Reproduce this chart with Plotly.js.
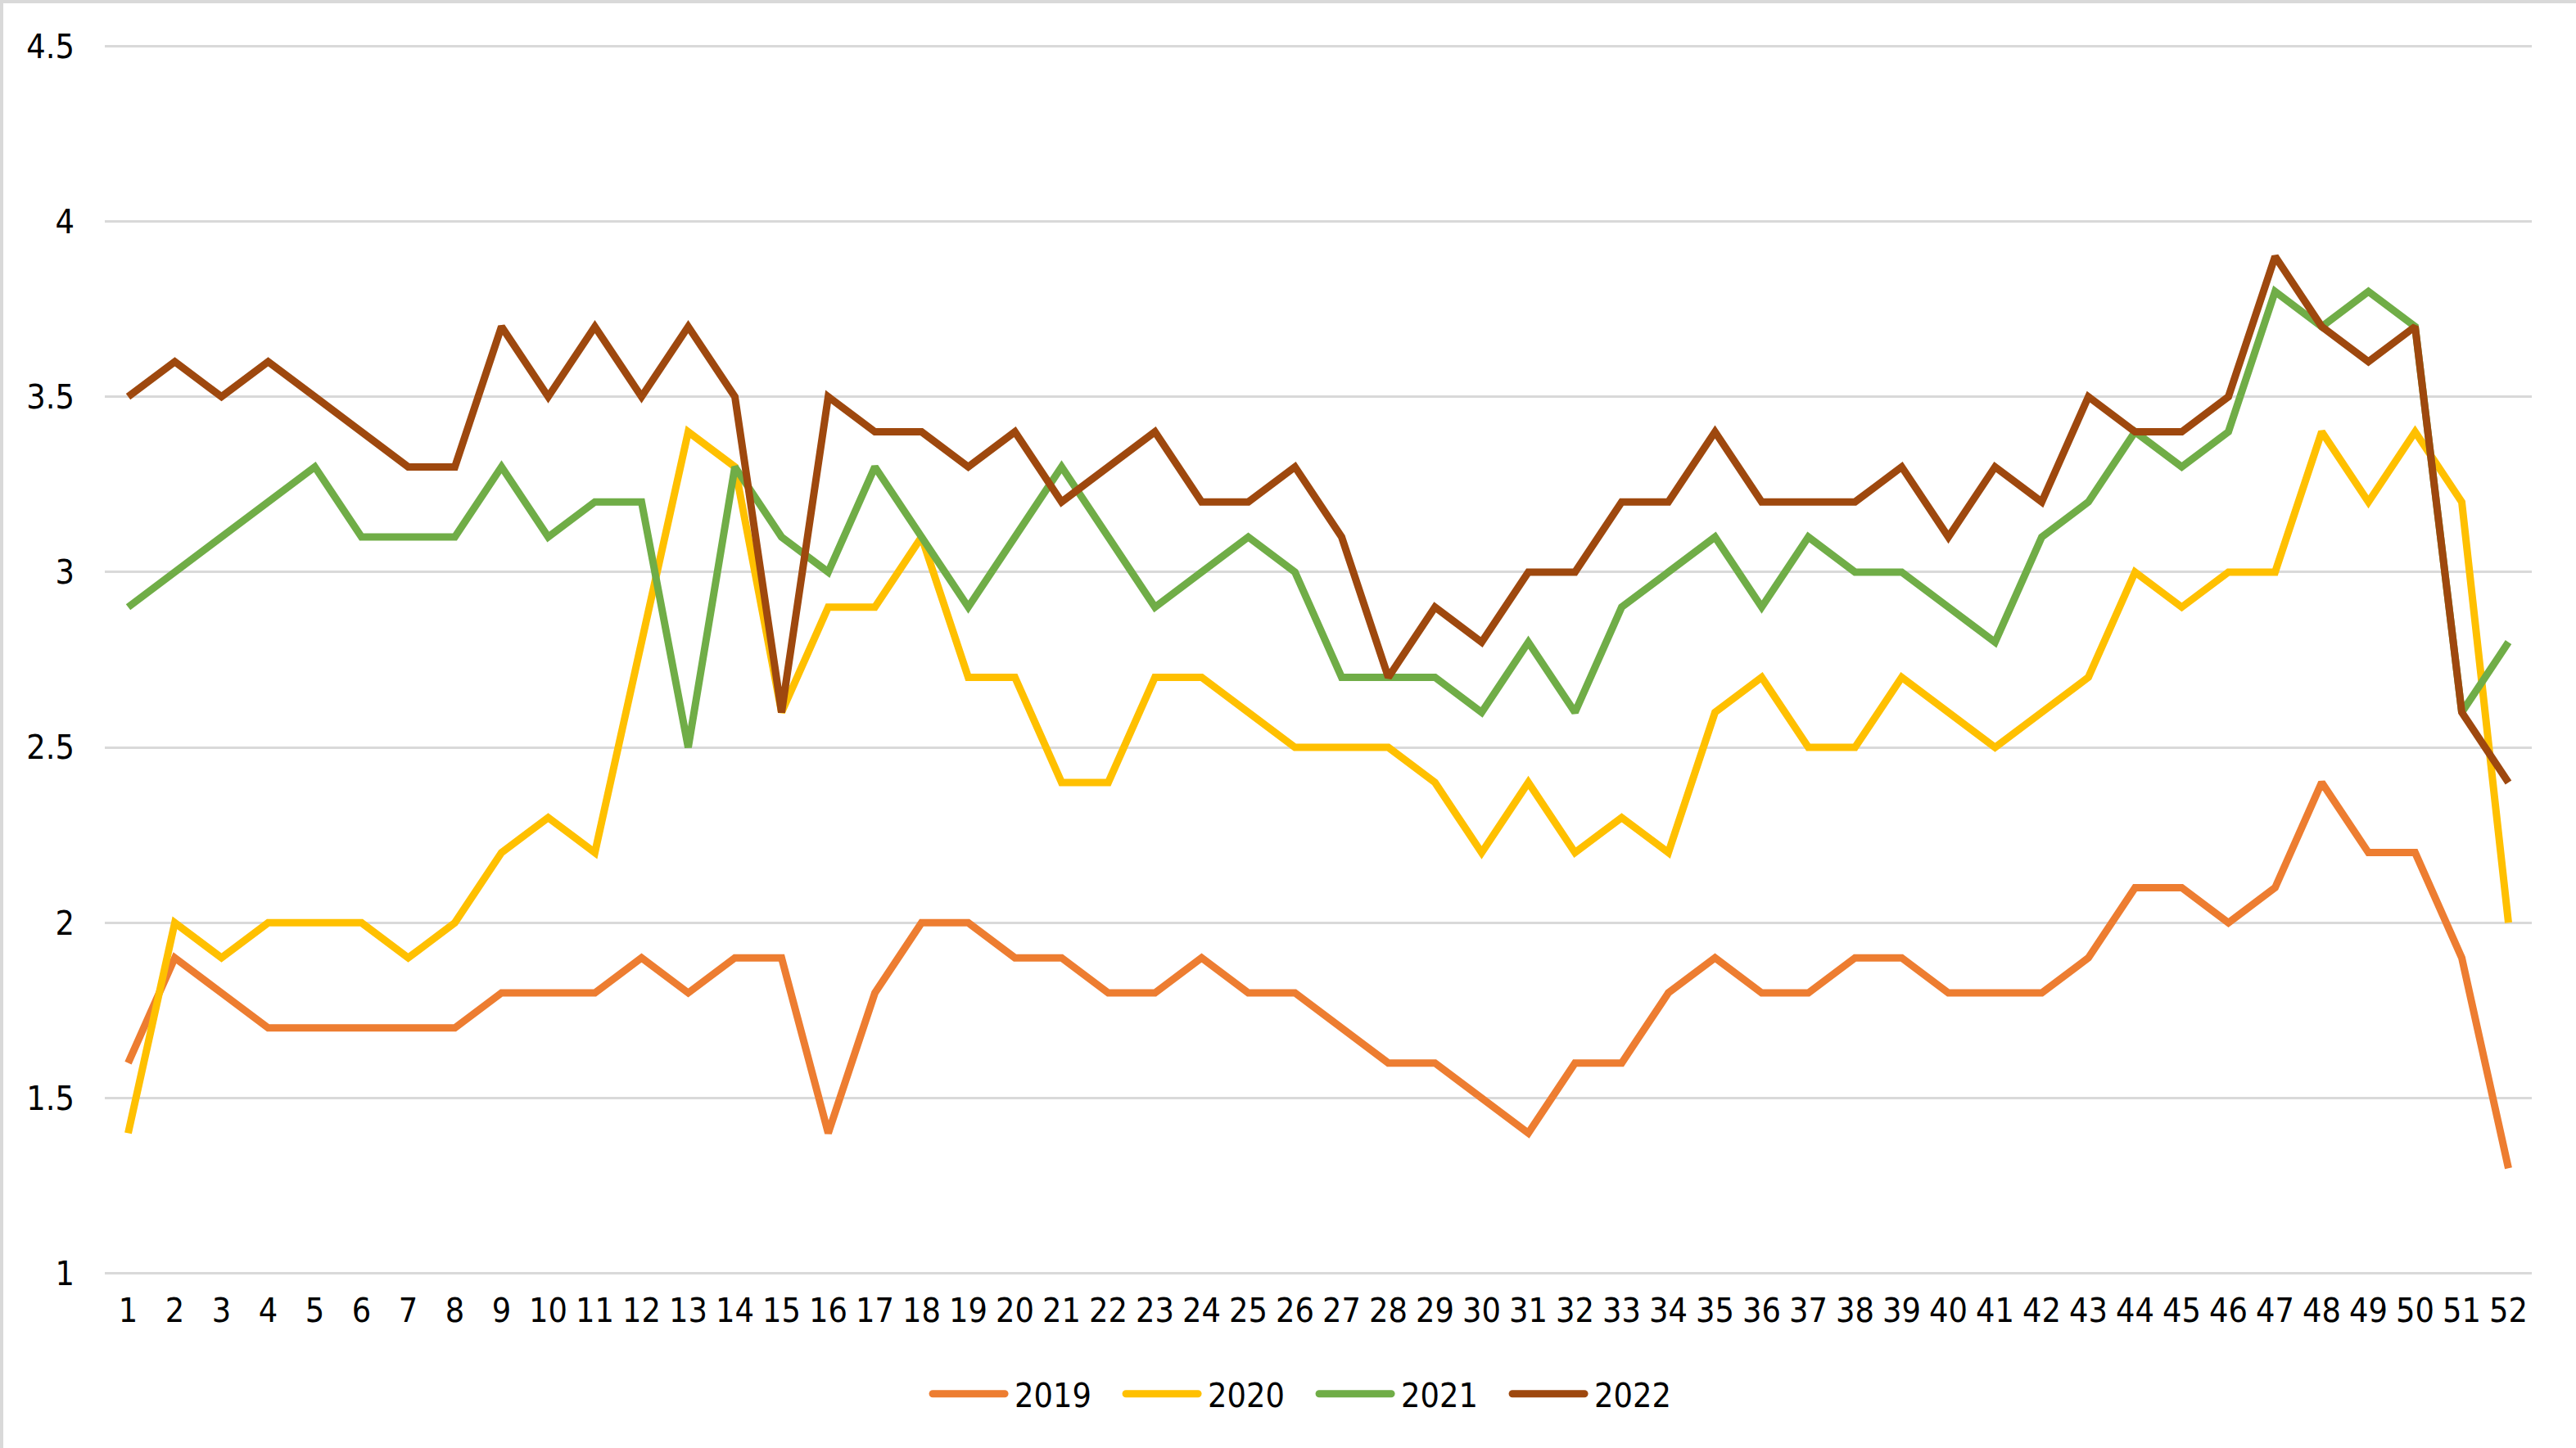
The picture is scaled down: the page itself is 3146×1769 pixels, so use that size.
<!DOCTYPE html>
<html>
<head>
<meta charset="utf-8">
<script src="https://cdn.plot.ly/plotly-3.0.1.min.js"></script>
<style>
  html, body { margin: 0; padding: 0; background: #fff; }
  #chart { width: 3146px; height: 1769px; box-sizing: border-box; border: 4px solid #d9d9d9; }
  #chart text { font-stretch: condensed !important; }
</style>
</head>
<body>
<div id="chart"></div>
<script>
var weeks = [];
for (var i = 1; i <= 52; i++) weeks.push(String(i));

var y2019 = [1.6, 1.9, 1.8, 1.7, 1.7, 1.7, 1.7, 1.7, 1.8, 1.8, 1.8, 1.9, 1.8, 1.9, 1.9, 1.4, 1.8, 2.0, 2.0, 1.9,
             1.9, 1.8, 1.8, 1.9, 1.8, 1.8, 1.7, 1.6, 1.6, 1.5, 1.4, 1.6, 1.6, 1.8, 1.9, 1.8, 1.8, 1.9, 1.9, 1.8,
             1.8, 1.8, 1.9, 2.1, 2.1, 2.0, 2.1, 2.4, 2.2, 2.2, 1.9, 1.3];
var y2020 = [1.4, 2.0, 1.9, 2.0, 2.0, 2.0, 1.9, 2.0, 2.2, 2.3, 2.2, 2.8, 3.4, 3.3, 2.6, 2.9, 2.9, 3.1, 2.7, 2.7,
             2.4, 2.4, 2.7, 2.7, 2.6, 2.5, 2.5, 2.5, 2.4, 2.2, 2.4, 2.2, 2.3, 2.2, 2.6, 2.7, 2.5, 2.5, 2.7, 2.6,
             2.5, 2.6, 2.7, 3.0, 2.9, 3.0, 3.0, 3.4, 3.2, 3.4, 3.2, 2.0];
var y2021 = [2.9, 3.0, 3.1, 3.2, 3.3, 3.1, 3.1, 3.1, 3.3, 3.1, 3.2, 3.2, 2.5, 3.3, 3.1, 3.0, 3.3, 3.1, 2.9, 3.1,
             3.3, 3.1, 2.9, 3.0, 3.1, 3.0, 2.7, 2.7, 2.7, 2.6, 2.8, 2.6, 2.9, 3.0, 3.1, 2.9, 3.1, 3.0, 3.0, 2.9,
             2.8, 3.1, 3.2, 3.4, 3.3, 3.4, 3.8, 3.7, 3.8, 3.7, 2.6, 2.8];
var y2022 = [3.5, 3.6, 3.5, 3.6, 3.5, 3.4, 3.3, 3.3, 3.7, 3.5, 3.7, 3.5, 3.7, 3.5, 2.6, 3.5, 3.4, 3.4, 3.3, 3.4,
             3.2, 3.3, 3.4, 3.2, 3.2, 3.3, 3.1, 2.7, 2.9, 2.8, 3.0, 3.0, 3.2, 3.2, 3.4, 3.2, 3.2, 3.2, 3.3, 3.1,
             3.3, 3.2, 3.5, 3.4, 3.4, 3.5, 3.9, 3.7, 3.6, 3.7, 2.6, 2.4];

var seriesNames = ['2019', '2020', '2021', '2022'];
var seriesValues = [y2019, y2020, y2021, y2022];
var colors = ['#ED7D31', '#FFC000', '#70AD47', '#9E480E'];

var data = [];
for (var s = 0; s < seriesNames.length; s++) {
  data.push({
    x: weeks,
    y: seriesValues[s],
    name: seriesNames[s],
    type: 'scatter',
    mode: 'lines',
    line: { color: colors[s], width: 9, shape: 'linear' },
    hoverinfo: 'none'
  });
}

var font = '"DejaVu Sans", sans-serif';

var layout = {
  width: 3146,
  height: 1769,
  paper_bgcolor: '#ffffff',
  plot_bgcolor: '#ffffff',
  margin: { l: 124, r: 58, t: 51, b: 216 },
  font: { family: font, size: 41, color: '#000000' },
  showlegend: true,
  legend: {
    orientation: 'h',
    x: 0.5206,
    xanchor: 'center',
    y: -0.075,
    yanchor: 'top',
    font: { family: font, size: 41, color: '#000000' },
    entrywidth: 191,
    entrywidthmode: 'pixels',
    tracegroupgap: 0
  },
  xaxis: {
    type: 'category',
    range: [-0.5, 51.5],
    showgrid: false,
    zeroline: false,
    showline: false,
    ticks: '',
    ticklabelstandoff: 16,
    tickfont: { family: font, size: 41, color: '#000000' },
    fixedrange: true
  },
  yaxis: {
    range: [0.997, 4.503],
    tickvals: [1, 1.5, 2, 2.5, 3, 3.5, 4, 4.5],
    ticktext: ['1', '1.5', '2', '2.5', '3', '3.5', '4', '4.5'],
    showgrid: true,
    gridcolor: '#d9d9d9',
    gridwidth: 3,
    zeroline: false,
    showline: false,
    ticks: '',
    ticklabelstandoff: 36,
    tickfont: { family: font, size: 41, color: '#000000' },
    fixedrange: true
  }
};

// longer legend line samples, like the original chart
function stretchLegendLines(gd) {
  gd.querySelectorAll('.legend .scrollbox, .legend').forEach(function (g) {
    g.removeAttribute('clip-path');
  });
  gd.querySelectorAll('.legend .legendlines path').forEach(function (p) {
    p.setAttribute('d', 'M-60,0h88');
    p.style.strokeLinecap = 'round';
    p.style.strokeWidth = '9px';
  });
}

var gd = document.getElementById('chart');
Plotly.newPlot(gd, data, layout, { staticPlot: true, displayModeBar: false }).then(function () {
  stretchLegendLines(gd);
  gd.on('plotly_afterplot', function () { stretchLegendLines(gd); });
  setTimeout(function () { stretchLegendLines(gd); }, 50);
});
</script>
</body>
</html>
